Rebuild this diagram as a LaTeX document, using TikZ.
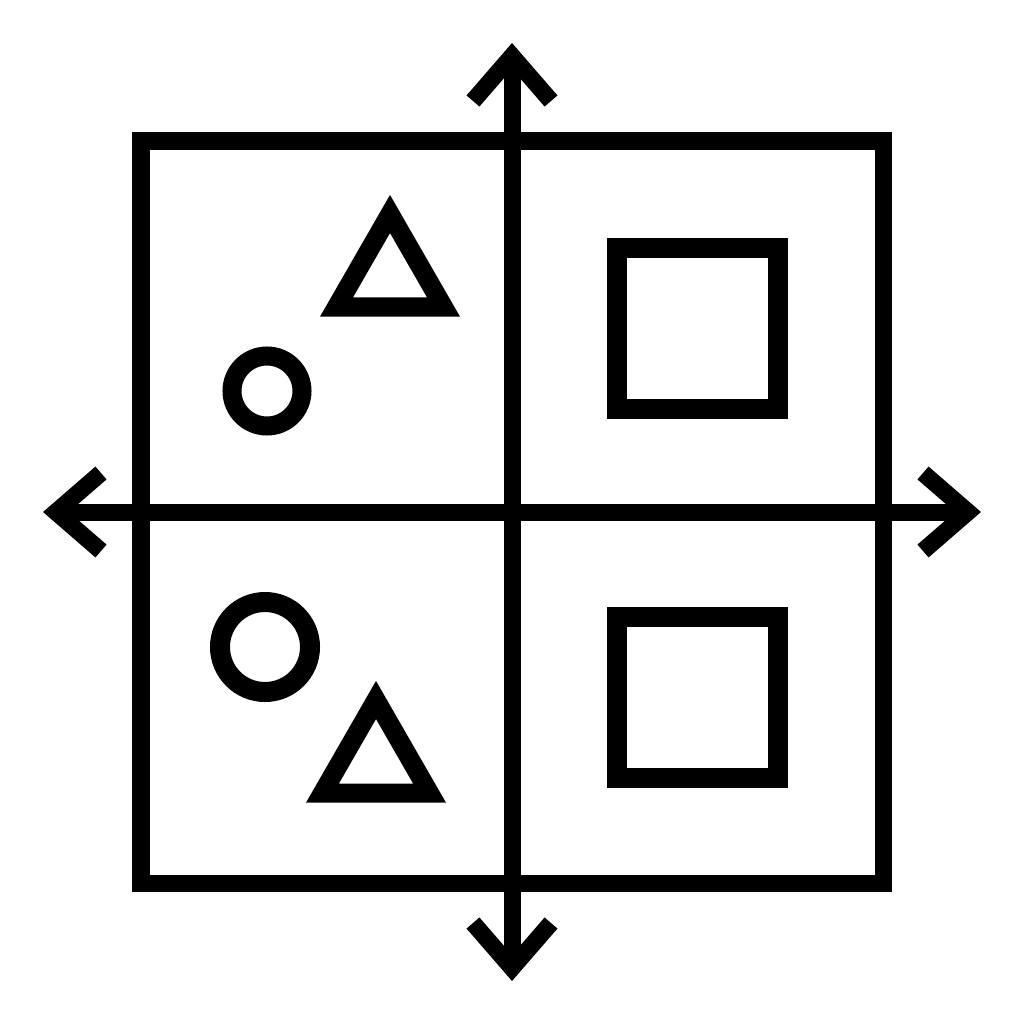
\documentclass[tikz,border=0pt]{standalone}
\usepackage{tikz}
\usetikzlibrary{arrows.meta}

\tikzset{
	frame/.style={line width=0.17cm, miter limit=10},
	figure/.style={line width=0.19cm, miter limit=10},
	axis/.style={line width=0.17cm, {Straight Barb[length=0.45cm, width=0.78cm]}-{Straight Barb[length=0.45cm, width=0.78cm]}}
}

\begin{document}
\begin{tikzpicture}[x=0.01cm, y=-0.01cm]
\useasboundingbox (0,0) rectangle (1024,1024);

%Frame
\draw[frame] (141,141) rectangle (883,883);

%Axes
\coordinate (top) at (512,43);
\coordinate (bottom) at (512,981);
\coordinate (left) at (43,512);
\coordinate (right) at (981,512);
\draw[axis] (top) -- (bottom);
\draw[axis] (left) -- (right);

%Quadrant 1 (top left)
\coordinate (tri1) at (390,276);
\draw[figure] (tri1) ++(0,-62) -- ++(53.5,93) -- ++(-107,0) -- cycle;
\coordinate (circ1) at (267,391);
\draw[figure] (circ1) circle (35);

%Quadrant 2 (top right)
\draw[figure, line width=0.2cm] (617,248) rectangle (778,409);

%Quadrant 3 (bottom left)
\coordinate (circ2) at (265,647);
\draw[figure, line width=0.2cm] (circ2) circle (45);
\coordinate (tri2) at (376,762);
\draw[figure] (tri2) ++(0,-62) -- ++(53.5,93) -- ++(-107,0) -- cycle;

%Quadrant 4 (bottom right)
\draw[figure, line width=0.2cm] (617,617) rectangle (778,778);

\end{tikzpicture}
\end{document}
